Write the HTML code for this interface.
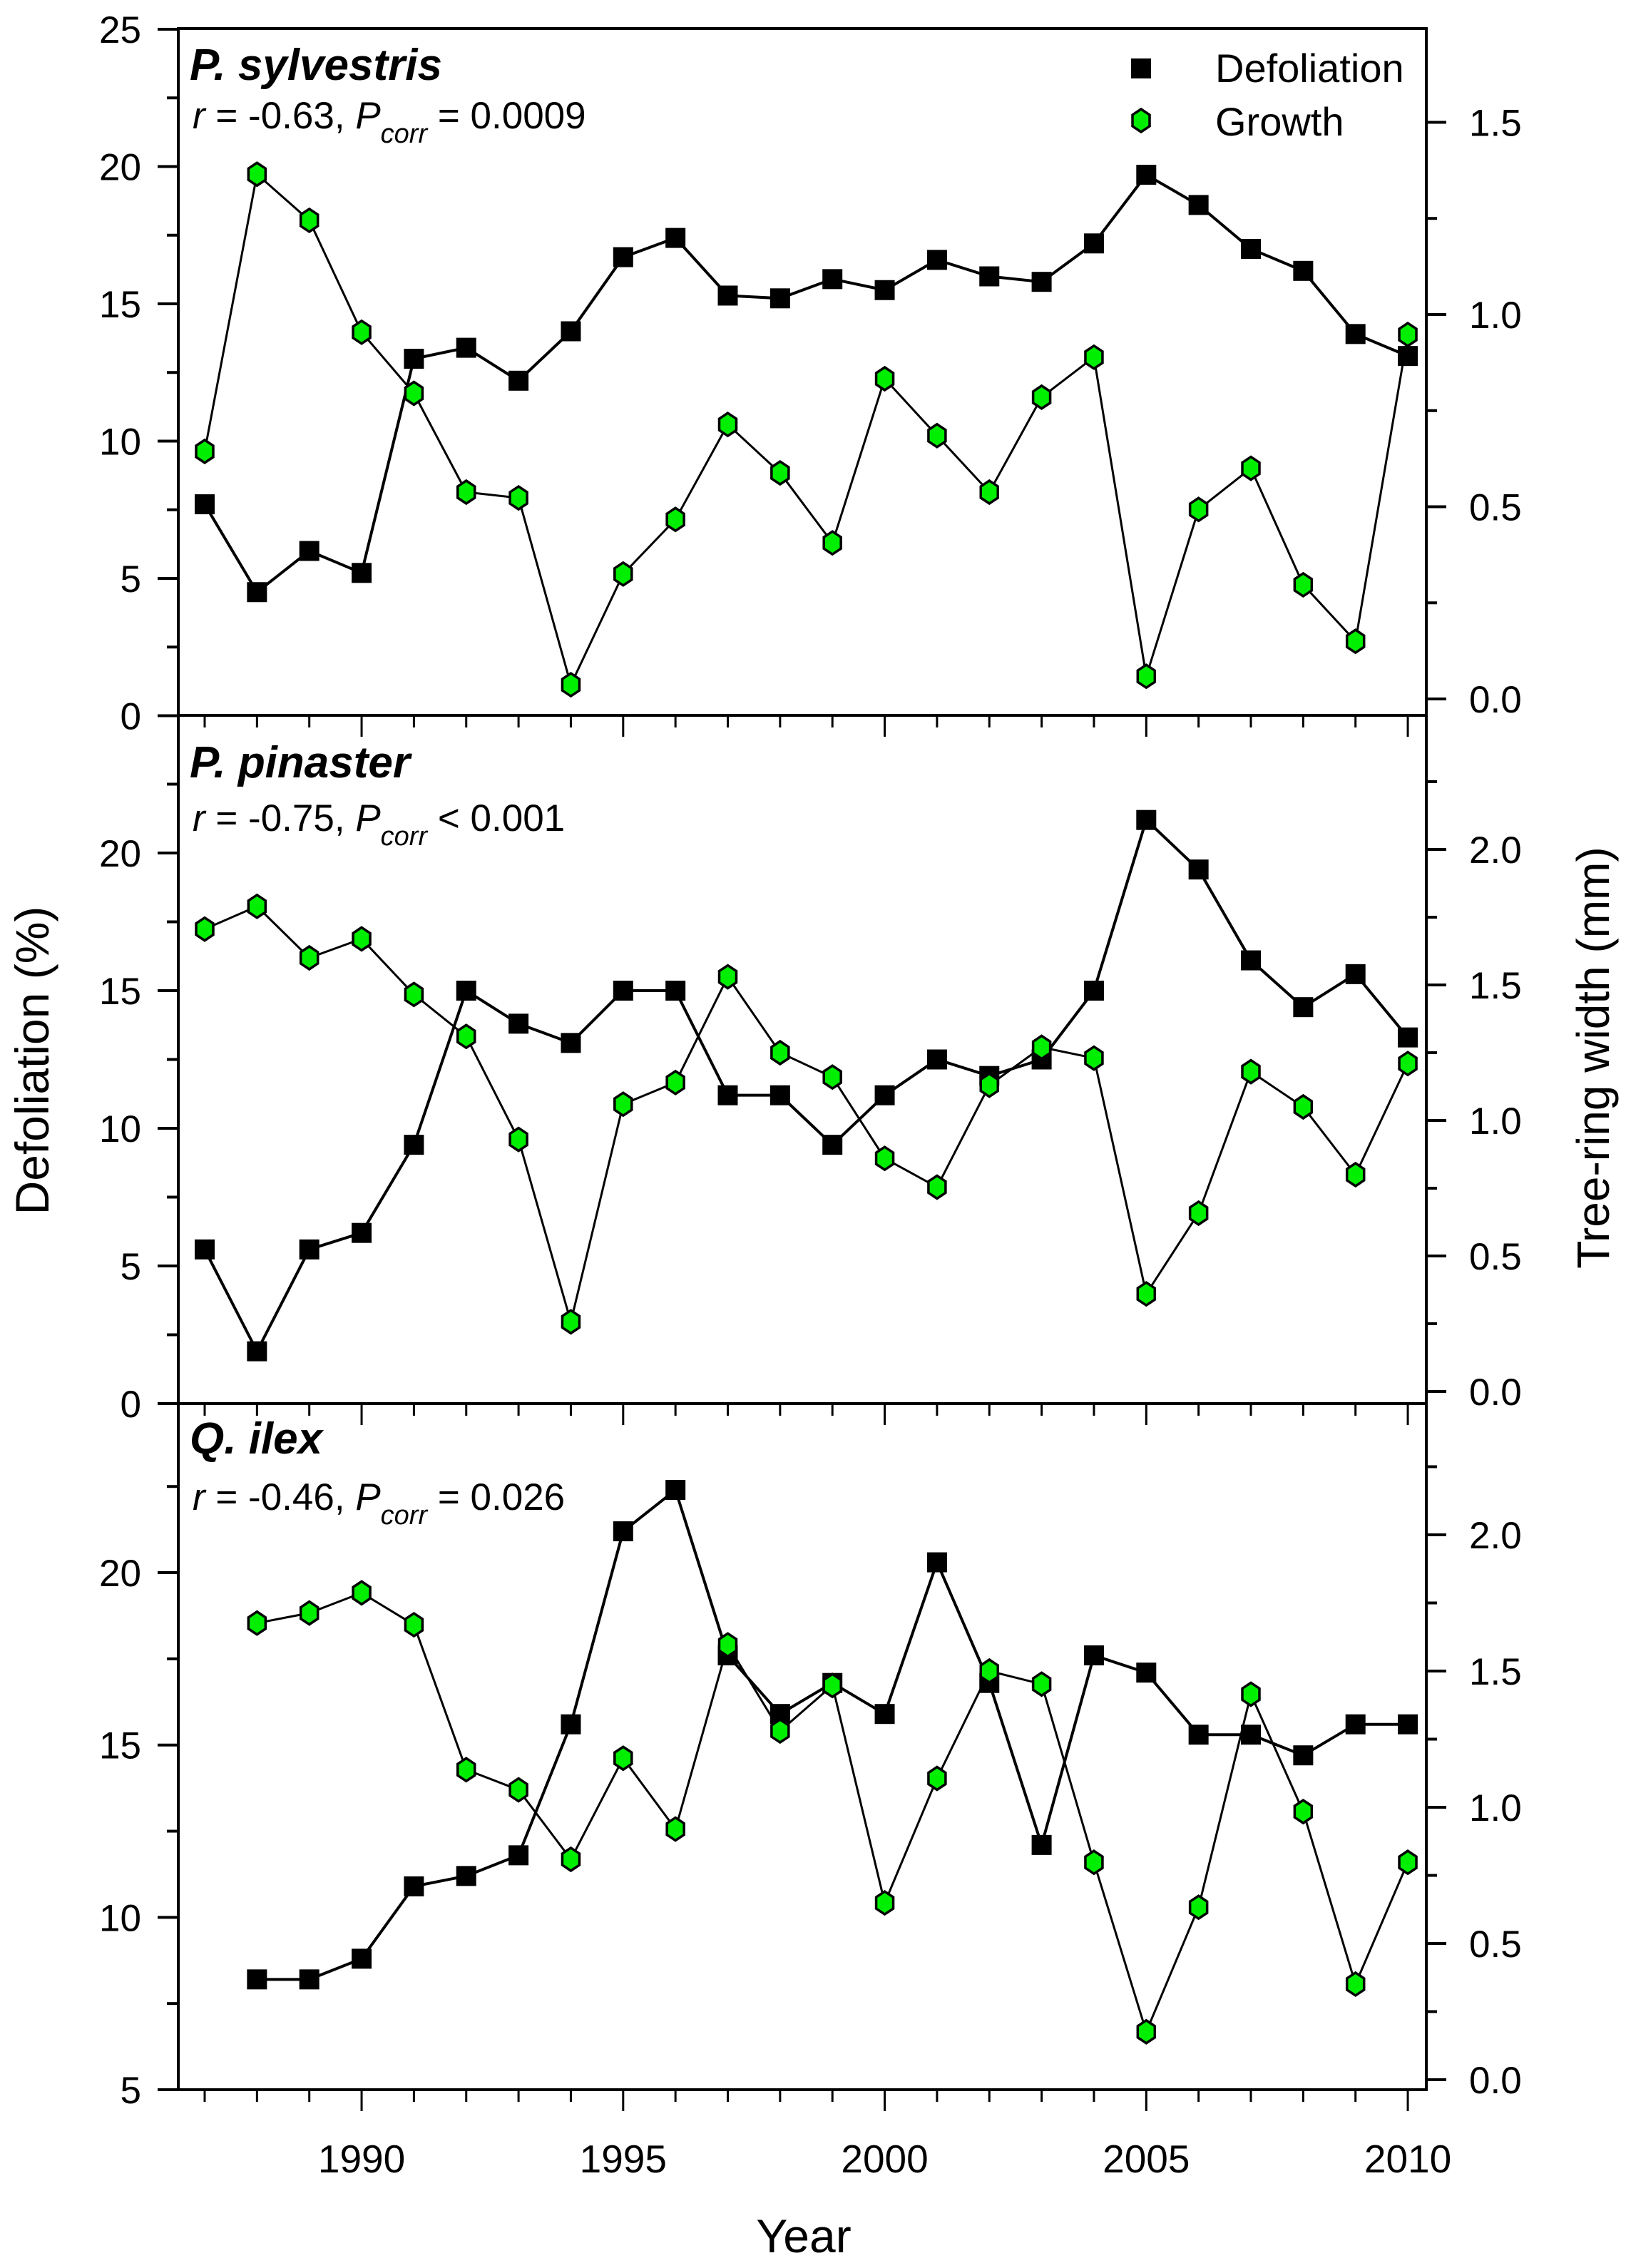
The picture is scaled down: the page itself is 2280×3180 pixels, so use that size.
<!DOCTYPE html>
<html><head><meta charset="utf-8"><style>
html,body{margin:0;padding:0;background:#fff;}
svg{display:block;font-family:"Liberation Sans",Arial,sans-serif;}
</style></head><body>
<svg id="chart" width="2280" height="3180" viewBox="0 0 2280 3180" xmlns="http://www.w3.org/2000/svg">
<g id="axes"></g>
<g id="series"></g>
<g id="labels"></g>
</svg>
<script>
const years1 = [1987,1988,1989,1990,1991,1992,1993,1994,1995,1996,1997,1998,1999,2000,2001,2002,2003,2004,2005,2006,2007,2008,2009,2010];
const years3 = [1988,1989,1990,1991,1992,1993,1994,1995,1996,1997,1998,1999,2000,2001,2002,2003,2004,2005,2006,2007,2008,2009,2010];
const sylvDefol = [7.7,4.5,6.0,5.2,13.0,13.4,12.2,14.0,16.7,17.4,15.3,15.2,15.9,15.5,16.6,16.0,15.8,17.2,19.7,18.6,17.0,16.2,13.9,13.1];
const sylvGrowth = [0.644,1.365,1.245,0.954,0.795,0.538,0.523,0.037,0.325,0.467,0.714,0.588,0.406,0.833,0.685,0.538,0.785,0.889,0.059,0.493,0.600,0.297,0.150,0.948];
const pinDefol = [5.6,1.9,5.6,6.2,9.4,15.0,13.8,13.1,15.0,15.0,11.2,11.2,9.4,11.2,12.5,11.9,12.5,15.0,21.2,19.4,16.1,14.4,15.6,13.3];
const pinGrowth = [1.706,1.79,1.60,1.67,1.465,1.31,0.93,0.257,1.06,1.14,1.53,1.25,1.16,0.86,0.754,1.13,1.27,1.23,0.36,0.658,1.18,1.05,0.80,1.21];
const ilexDefol = [8.2,8.2,8.8,10.9,11.2,11.8,15.6,21.2,22.4,17.6,15.9,16.8,15.9,20.3,16.8,12.1,17.6,17.1,15.3,15.3,14.7,15.6,15.6];
const ilexGrowth = [1.676,1.713,1.787,1.67,1.138,1.064,0.809,1.18,0.92,1.596,1.28,1.447,0.649,1.106,1.5,1.452,0.798,0.176,0.633,1.415,0.984,0.351,0.798];
const leftTicks1 = [0,5,10,15,20,25];
const leftTicks2 = [0,5,10,15,20];
const leftTicks3 = [5,10,15,20];
const rightTicks1 = ["0.0","0.5","1.0","1.5"];
const rightTicks2 = ["0.0","0.5","1.0","1.5","2.0"];
const rightTicks3 = ["0.0","0.5","1.0","1.5","2.0"];
const xTickLabels = [1990,1995,2000,2005,2010];

const NS="http://www.w3.org/2000/svg";
const X0=250, X1=2000;
function xs(yr){return 287+(yr-1987)*73.35;}
function mk(tag,attrs,parent,txt){const e=document.createElementNS(NS,tag);for(const k in attrs)e.setAttribute(k,attrs[k]);if(txt!==undefined)e.textContent=txt;parent.appendChild(e);return e;}
const axes=document.getElementById('axes'), series=document.getElementById('series'), labels=document.getElementById('labels');

const panels=[
 {name:'sylvestris',top:40,bot:1003,lv0:0,ly0:1003.5,lpx:38.5,lmax:25,lt:leftTicks1,lminor:[2.5,7.5,12.5,17.5,22.5],ry0:980,rpx:539,rmax:1.74,rt:rightTicks1,years:years1,d:sylvDefol,g:sylvGrowth,
  title:'P. sylvestris',ty:112,stat:['r',' = -0.63, ','P','corr',' = 0.0009'],sy:180},
 {name:'pinaster',top:1003,bot:1968,lv0:0,ly0:1968,lpx:38.6,lmax:25,lt:leftTicks2,lminor:[2.5,7.5,12.5,17.5,22.5],ry0:1951,rpx:380,rmax:2.5,rt:rightTicks2,years:years1,d:pinDefol,g:pinGrowth,
  title:'P. pinaster',ty:1090,stat:['r',' = -0.75, ','P','corr',' < 0.001'],sy:1165},
 {name:'ilex',top:1968,bot:2930,lv0:5,ly0:2930,lpx:48.33,lmax:25,lt:leftTicks3,lminor:[7.5,12.5,17.5,22.5],ry0:2916,rpx:382,rmax:2.5,rt:rightTicks3,years:years3,d:ilexDefol,g:ilexGrowth,
  title:'Q. ilex',ty:2038,stat:['r',' = -0.46, ','P','corr',' = 0.026'],sy:2117}
];

panels.forEach((p,pi)=>{
  const ly=v=>p.ly0-(v-p.lv0)*p.lpx;
  const ry=v=>p.ry0-v*p.rpx;
  const fr=mk('rect',{x:X0,y:p.top,width:X1-X0,height:p.bot-p.top,fill:'none',stroke:'#000','stroke-width':4},axes);
  
  
  // left ticks
  p.lt.forEach(v=>{
    const t=mk('line',{x1:X0-29,x2:X0,y1:ly(v),y2:ly(v),stroke:'#000','stroke-width':4},axes);
    
    
    const l=mk('text',{x:198,y:ly(v)+19,'text-anchor':'end','font-size':53},labels,String(v));
    
    
  });
  p.lminor.forEach(v=>{
    if(ly(v)<p.top-1)return;
    const t=mk('line',{x1:X0-16,x2:X0,y1:ly(v),y2:ly(v),stroke:'#000','stroke-width':4},axes);
    
    
  });
  // right ticks
  for(let v=0; v<=p.rmax+1e-9; v+=0.25){
    const y=ry(v); if(y<p.top+2) continue;
    const major=Math.abs(v*2-Math.round(v*2))<1e-6;
    const t=mk('line',{x1:X1,x2:X1+(major?28:15),y1:y,y2:y,stroke:'#000','stroke-width':4},axes);
    
    
  }
  p.rt.forEach(s=>{
    const l=mk('text',{x:2060,y:ry(parseFloat(s))+19,'font-size':53},labels,s);
    
    
  });
  // bottom ticks
  for(let yr=1987; yr<=2010; yr++){
    const major=yr%5===0;
    const t=mk('line',{x1:xs(yr),x2:xs(yr),y1:p.bot,y2:p.bot+(major?30:17),stroke:'#000','stroke-width':3},axes);
    
    
  }
  // growth line
  const gpts=p.years.map((yr,i)=>xs(yr)+','+ry(p.g[i])).join(' ');
  const gl=mk('polyline',{points:gpts,fill:'none',stroke:'#000','stroke-width':3},series);
  
  
  const dpts=p.years.map((yr,i)=>xs(yr)+','+ly(p.d[i])).join(' ');
  const dl=mk('polyline',{points:dpts,fill:'none',stroke:'#000','stroke-width':4},series);
  
  
  p.years.forEach((yr,i)=>{
    const x=xs(yr), y=ly(p.d[i]);
    const s=mk('rect',{x:x-14,y:y-14,width:28,height:28,fill:'#000'},series);
    
    
  });
  p.years.forEach((yr,i)=>{
    const x=xs(yr), y=ry(p.g[i]);
    const h=mk('polygon',{points:`${x},${y-16} ${x+12},${y-8} ${x+12},${y+8} ${x},${y+16} ${x-12},${y+8} ${x-12},${y-8}`,fill:'#00ee00',stroke:'#000','stroke-width':3.5},series);
    
    
  });
  // titles
  const t=mk('text',{x:266,y:p.ty,'font-size':62,'font-weight':'bold','font-style':'italic'},labels,p.title);
  
  
  const st=mk('text',{x:270,y:p.sy,'font-size':53},labels);
  
  
  mk('tspan',{'font-style':'italic'},st,p.stat[0]);
  mk('tspan',{},st,p.stat[1]);
  mk('tspan',{'font-style':'italic'},st,p.stat[2]);
  mk('tspan',{'font-style':'italic','font-size':38,dy:20},st,p.stat[3]);
  mk('tspan',{dy:-20},st,p.stat[4]);
});

xTickLabels.forEach(yr=>{
  const l=mk('text',{x:xs(yr),y:3046,'text-anchor':'middle','font-size':55},labels,String(yr));
  
  
});
const xt=mk('text',{x:1127,y:3158,'text-anchor':'middle','font-size':66},labels,'Year');


const yl=mk('text',{x:0,y:0,'text-anchor':'middle','font-size':66,transform:'translate(68,1487) rotate(-90)'},labels,'Defoliation (%)');


const yr2=mk('text',{x:0,y:0,'text-anchor':'middle','font-size':64,transform:'translate(2256,1483) rotate(-90)'},labels,'Tree-ring width (mm)');



// legend
const lg=mk('g',{},labels);


const ls=mk('rect',{x:1586,y:82,width:28,height:28,fill:'#000'},lg);


const lt1=mk('text',{x:1704,y:115,'font-size':56},lg,'Defoliation');


const lh=mk('polygon',{points:'1600,153 1612,161 1612,177 1600,185 1588,177 1588,161',fill:'#00ee00',stroke:'#000','stroke-width':3.5},lg);


const lt2=mk('text',{x:1704,y:190,'font-size':56},lg,'Growth');


</script>
</body></html>
